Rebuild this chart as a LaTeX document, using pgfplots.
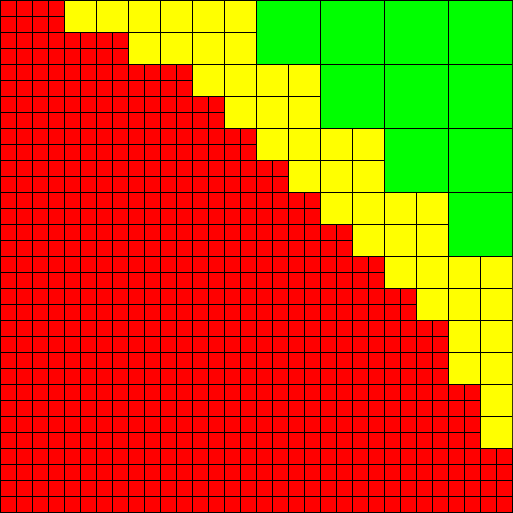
\documentclass[border=0pt]{standalone}
\usepackage{pgfplots}
\pgfplotsset{compat=1.18}
\definecolor{cred}{RGB}{255,0,0}
\definecolor{cyel}{RGB}{255,255,0}
\definecolor{cgrn}{RGB}{0,255,0}
\begin{document}
\begin{tikzpicture}
\begin{axis}[
  width=10cm, height=10cm, scale only axis,
  xmin=0, xmax=32, ymin=0, ymax=32, y dir=reverse,
  xtick={0,1,...,32}, ytick={0,1,...,32},
  xticklabels={}, yticklabels={},
  major tick length=0pt,
  grid=major, grid style={black, line width=0.6pt},
  axis line style={black, line width=0.6pt},
  axis background/.style={fill=cred},
  unbounded coords=jump,
  clip=true,
]
% yellow blocks (2x2 units)
\addplot[fill=cyel, draw=black, line width=0.6pt] coordinates {
(4,0)(6,0)(6,2)(4,2)(4,0) (nan,nan)
(6,0)(8,0)(8,2)(6,2)(6,0) (nan,nan)
(8,0)(10,0)(10,2)(8,2)(8,0) (nan,nan)
(10,0)(12,0)(12,2)(10,2)(10,0) (nan,nan)
(12,0)(14,0)(14,2)(12,2)(12,0) (nan,nan)
(14,0)(16,0)(16,2)(14,2)(14,0) (nan,nan)
(8,2)(10,2)(10,4)(8,4)(8,2) (nan,nan)
(10,2)(12,2)(12,4)(10,4)(10,2) (nan,nan)
(12,2)(14,2)(14,4)(12,4)(12,2) (nan,nan)
(14,2)(16,2)(16,4)(14,4)(14,2) (nan,nan)
(12,4)(14,4)(14,6)(12,6)(12,4) (nan,nan)
(14,4)(16,4)(16,6)(14,6)(14,4) (nan,nan)
(16,4)(18,4)(18,6)(16,6)(16,4) (nan,nan)
(18,4)(20,4)(20,6)(18,6)(18,4) (nan,nan)
(14,6)(16,6)(16,8)(14,8)(14,6) (nan,nan)
(16,6)(18,6)(18,8)(16,8)(16,6) (nan,nan)
(18,6)(20,6)(20,8)(18,8)(18,6) (nan,nan)
(16,8)(18,8)(18,10)(16,10)(16,8) (nan,nan)
(18,8)(20,8)(20,10)(18,10)(18,8) (nan,nan)
(20,8)(22,8)(22,10)(20,10)(20,8) (nan,nan)
(22,8)(24,8)(24,10)(22,10)(22,8) (nan,nan)
(18,10)(20,10)(20,12)(18,12)(18,10) (nan,nan)
(20,10)(22,10)(22,12)(20,12)(20,10) (nan,nan)
(22,10)(24,10)(24,12)(22,12)(22,10) (nan,nan)
(20,12)(22,12)(22,14)(20,14)(20,12) (nan,nan)
(22,12)(24,12)(24,14)(22,14)(22,12) (nan,nan)
(24,12)(26,12)(26,14)(24,14)(24,12) (nan,nan)
(26,12)(28,12)(28,14)(26,14)(26,12) (nan,nan)
(22,14)(24,14)(24,16)(22,16)(22,14) (nan,nan)
(24,14)(26,14)(26,16)(24,16)(24,14) (nan,nan)
(26,14)(28,14)(28,16)(26,16)(26,14) (nan,nan)
(24,16)(26,16)(26,18)(24,18)(24,16) (nan,nan)
(26,16)(28,16)(28,18)(26,18)(26,16) (nan,nan)
(28,16)(30,16)(30,18)(28,18)(28,16) (nan,nan)
(30,16)(32,16)(32,18)(30,18)(30,16) (nan,nan)
(26,18)(28,18)(28,20)(26,20)(26,18) (nan,nan)
(28,18)(30,18)(30,20)(28,20)(28,18) (nan,nan)
(30,18)(32,18)(32,20)(30,20)(30,18) (nan,nan)
(28,20)(30,20)(30,22)(28,22)(28,20) (nan,nan)
(30,20)(32,20)(32,22)(30,22)(30,20) (nan,nan)
(28,22)(30,22)(30,24)(28,24)(28,22) (nan,nan)
(30,22)(32,22)(32,24)(30,24)(30,22) (nan,nan)
(30,24)(32,24)(32,26)(30,26)(30,24) (nan,nan)
(30,26)(32,26)(32,28)(30,28)(30,26)
};
% green blocks (4x4 units)
\addplot[fill=cgrn, draw=black, line width=0.6pt] coordinates {
(16,0)(20,0)(20,4)(16,4)(16,0) (nan,nan)
(20,0)(24,0)(24,4)(20,4)(20,0) (nan,nan)
(24,0)(28,0)(28,4)(24,4)(24,0) (nan,nan)
(28,0)(32,0)(32,4)(28,4)(28,0) (nan,nan)
(20,4)(24,4)(24,8)(20,8)(20,4) (nan,nan)
(24,4)(28,4)(28,8)(24,8)(24,4) (nan,nan)
(28,4)(32,4)(32,8)(28,8)(28,4) (nan,nan)
(24,8)(28,8)(28,12)(24,12)(24,8) (nan,nan)
(28,8)(32,8)(32,12)(28,12)(28,8) (nan,nan)
(28,12)(32,12)(32,16)(28,16)(28,12)
};
\end{axis}
\pgfresetboundingbox
\path[use as bounding box] ([shift={(-0.3pt,-0.3pt)}]current axis.south west) rectangle ([shift={(0.3pt,0.3pt)}]current axis.north east);
\end{tikzpicture}
\end{document}
